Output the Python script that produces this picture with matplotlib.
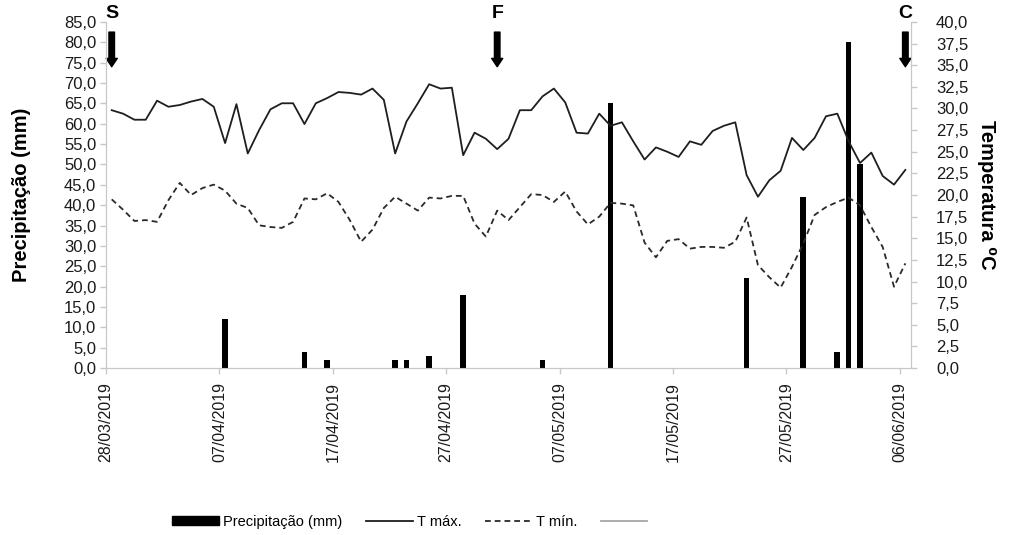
import matplotlib
matplotlib.use("Agg")
import matplotlib.pyplot as plt
from matplotlib.ticker import FuncFormatter
from matplotlib.lines import Line2D
from matplotlib.patches import Patch
import datetime as dt

plt.rcParams['font.family'] = ['Liberation Sans', 'DejaVu Sans']

# daily series, 28/03/2019 .. 06/06/2019
start = dt.date(2019, 3, 28)
n_days = 71
dates = [start + dt.timedelta(days=i) for i in range(n_days)]

t_max = [29.8, 29.4, 28.7, 28.7, 30.9, 30.2, 30.4, 30.8, 31.1, 30.2,
         26.0, 30.5, 24.8, 27.5, 29.9, 30.6, 30.6, 28.2, 30.6, 31.2,
         31.9, 31.8, 31.6, 32.3, 31.0, 24.8, 28.5, 30.6, 32.8, 32.3,
         32.4, 24.6, 27.2, 26.5, 25.3, 26.5, 29.8, 29.8, 31.4, 32.3,
         30.7, 27.2, 27.1, 29.4, 28.0, 28.4, 26.2, 24.1, 25.5, 25.0,
         24.4, 26.2, 25.8, 27.4, 28.0, 28.4, 22.3, 19.8, 21.7, 22.8,
         26.6, 25.2, 26.6, 29.1, 29.4, 26.2, 23.7, 24.9, 22.2, 21.2,
         22.9]

t_min = [19.5, 18.3, 17.0, 17.1, 16.9, 19.4, 21.4, 20.0, 20.8, 21.2,
         20.5, 19.0, 18.5, 16.5, 16.3, 16.2, 16.9, 19.6, 19.5, 20.2,
         19.2, 17.1, 14.6, 16.0, 18.5, 19.8, 19.0, 18.2, 19.7, 19.6,
         19.9, 19.9, 16.7, 15.2, 18.2, 17.1, 18.6, 20.1, 20.0, 19.2,
         20.4, 18.1, 16.6, 17.5, 19.1, 19.0, 18.8, 14.5, 12.8, 14.7,
         14.9, 13.8, 14.0, 14.0, 13.9, 14.6, 17.4, 11.9, 10.5, 9.3,
         11.7, 14.4, 17.7, 18.6, 19.2, 19.7, 18.8, 16.3, 14.0, 9.4,
         12.1]

# precipitation (mm) on the days it rained
rain_day = [10, 17, 19, 25, 26, 28, 31, 38, 44, 56, 61, 64, 65, 66]
rain_mm = [12, 4, 2, 2, 2, 3, 18, 2, 65, 22, 42, 4, 80, 50]

marks = ['S', 'F', 'C']
mark_day = [0, 34, 70]

tick_days = list(range(0, n_days, 10))
tick_labels = [dates[i].strftime('%d/%m/%Y') for i in tick_days]

fig = plt.figure(figsize=(10.1, 5.35), dpi=100)
ax = fig.add_axes([0.105, 0.312, 0.797, 0.647])
ax2 = ax.twinx()

idx = list(range(n_days))
ax.bar(rain_day, rain_mm, width=0.5, color='black', zorder=3)
ax2.plot(idx, t_max, color='#1e1e1e', lw=1.3, zorder=4)
ax2.plot(idx, t_min, color='#2a2a2a', lw=1.3, ls=(0, (3.2, 2.2)), zorder=4)

ax.set_xlim(-0.5, n_days - 0.5)
ax.set_ylim(0, 85)
ax2.set_ylim(0, 40)
ax.set_yticks(range(0, 86, 5))
ax2.set_yticks([i * 2.5 for i in range(17)])
fmt = FuncFormatter(lambda v, p: f'{v:.1f}'.replace('.', ','))
ax.yaxis.set_major_formatter(fmt)
ax2.yaxis.set_major_formatter(fmt)

ax.set_xticks([d - 0.5 for d in tick_days])
ax.set_xticklabels(tick_labels, rotation=90, ha='center', va='top')

spine_c = '#c8c8c8'
for a in (ax, ax2):
    for s in a.spines.values():
        s.set_color(spine_c)
    a.spines['top'].set_visible(False)
    a.tick_params(colors=spine_c, labelcolor='#1a1a1a', labelsize=12,
                  length=4, width=1)
ax.tick_params(axis='y', pad=3)
ax2.tick_params(axis='y', pad=14)
ax.tick_params(axis='x', pad=6, labelsize=11.5)

ax.set_ylabel('Precipitação (mm)', fontsize=14.5, fontweight='bold',
              labelpad=24)
ax2.set_ylabel('Temperatura ⁰C', fontsize=14.5, fontweight='bold',
               rotation=270, labelpad=20)

# phase arrows
for m, d in zip(marks, mark_day):
    ax.annotate('', xy=(d, 74), xytext=(d, 82.5),
                arrowprops=dict(facecolor='black', edgecolor='black',
                                width=4, headwidth=8, headlength=6,
                                shrink=0), zorder=6, annotation_clip=False)
    ax.text(d, 87.0, m, ha='center', va='center', fontsize=14,
            fontweight='bold', clip_on=False)

handles = [Patch(facecolor='black', edgecolor='black'),
           Line2D([], [], color='#1e1e1e', lw=1.3),
           Line2D([], [], color='#2a2a2a', lw=1.3, ls=(0, (3.2, 2.2))),
           Line2D([], [], color='#a6a6a6', lw=1.3)]
labels = ['Precipitação (mm)', 'T máx.', 'T mín.', ' ']
fig.legend(handles, labels, loc='center', bbox_to_anchor=(0.41, 0.025),
           ncol=4, frameon=False, fontsize=10.5, handlelength=3.2,
           handleheight=0.5, handletextpad=0.3, columnspacing=1.6)

fig.savefig('out.png', dpi=100)
